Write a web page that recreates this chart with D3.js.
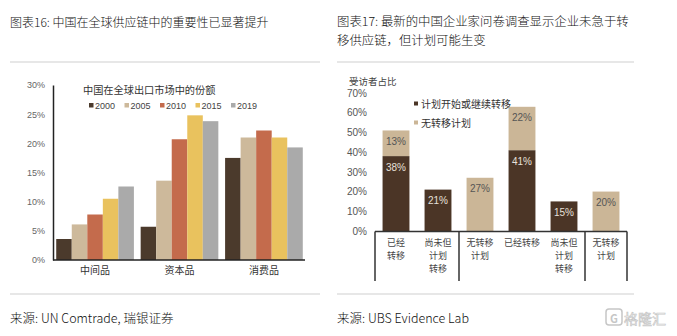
<!DOCTYPE html>
<html><head><meta charset="utf-8">
<script src="https://cdn.jsdelivr.net/npm/d3@7/dist/d3.min.js"></script>
<style>
html,body{margin:0;padding:0;background:#fff;}
svg{display:block;}
</style></head>
<body>
<svg id="c" width="677" height="336"></svg>
<script>
// ---------- Data ----------
const leftCategories = ["中间品", "资本品", "消费品"];
const leftYears = ["2000", "2005", "2010", "2015", "2019"];
const share2000 = [3.6, 5.7, 17.5];
const share2005 = [6.1, 13.6, 21.0];
const share2010 = [7.8, 20.7, 22.2];
const share2015 = [10.5, 24.8, 21.0];
const share2019 = [12.6, 23.8, 19.3];
const leftTicks = [0, 5, 10, 15, 20, 25, 30];

const rightCategories = ["已经\n转移", "尚未但\n计划\n转移", "无转移\n计划", "已经转移", "尚未但\n计划\n转移", "无转移\n计划"];
const planShift = [38, 21, 0, 41, 15, 0];
const noPlan = [13, 0, 27, 22, 0, 20];
const rightTicks = [0, 10, 20, 30, 40, 50, 60, 70];
const rightDividers = [0, 2, 5, 6];

const FONT = "'Noto Sans CJK SC','Noto Sans',sans-serif";
const svg = d3.select("#c");
svg.append("rect").attr("width", 677).attr("height", 336).attr("fill", "#fff");

// ---------- Titles / frame ----------
function t(x, y, s, size, color, anchor, weight) {
  return svg.append("text").attr("x", x).attr("y", y).text(s)
    .attr("font-family", FONT).attr("font-size", size).attr("fill", color || "#111")
    .attr("text-anchor", anchor || "start").attr("dominant-baseline", "central")
    .attr("font-weight", weight || "normal");
}
t(10, 21, "图表16: 中国在全球供应链中的重要性已显著提升", 12, "#111", "start", 300);
t(337, 21, "图表17: 最新的中国企业家问卷调查显示企业未急于转", 12.4, "#111", "start", 300);
t(337, 40, "移供应链，但计划可能生变", 12.4, "#111", "start", 300);
[[10, 320, 62], [337, 634, 62], [10, 320, 294], [337, 634, 294]].forEach(([a, b, y]) => {
  svg.append("line").attr("x1", a).attr("x2", b).attr("y1", y).attr("y2", y)
    .attr("stroke", "#cfcfcf").attr("stroke-width", 1);
});
t(10, 317, "来源: UN Comtrade, 瑞银证券", 12.5, "#111", "start", 300);
t(337, 317, "来源: UBS Evidence Lab", 12.5, "#111", "start", 300);
// watermark
const wm = svg.append("g").attr("opacity", 0.55);
wm.append("rect").attr("x", 606).attr("y", 309).attr("width", 16).attr("height", 16).attr("rx", 3)
  .attr("fill", "none").attr("stroke", "#999").attr("stroke-width", 1.5);
wm.append("text").attr("x", 614).attr("y", 318).text("G").attr("text-anchor", "middle")
  .attr("dominant-baseline", "central").attr("font-family", FONT).attr("font-size", 11)
  .attr("font-weight", "bold").attr("fill", "#999");
wm.append("text").attr("x", 624).attr("y", 318).text("格隆汇").attr("dominant-baseline", "central")
  .attr("font-family", FONT).attr("font-size", 14).attr("fill", "none")
  .attr("stroke", "#999").attr("stroke-width", 0.7);

// ---------- Left chart ----------
const yL = d3.scaleLinear().domain([0, 30]).range([260, 85]);
const x0 = d3.scaleBand().domain(leftCategories).range([52, 307]).paddingInner(0.08).paddingOuter(0.05);
const x1 = d3.scaleBand().domain(leftYears).range([0, x0.bandwidth()]);
const leftColors = d3.scaleOrdinal().domain(leftYears).range(["#4b3a2c", "#cdb99b", "#c46b4c", "#e9c25e", "#aaaaaa"]);
const leftSeries = [share2000, share2005, share2010, share2015, share2019];

const gL = svg.append("g");
leftSeries.forEach((vals, si) => {
  gL.selectAll(null).data(vals).join("rect")
    .attr("x", (d, i) => x0(leftCategories[i]) + x1(leftYears[si]))
    .attr("width", x1.bandwidth())
    .attr("y", d => yL(d)).attr("height", d => yL(0) - yL(d))
    .attr("fill", leftColors(leftYears[si]));
});
const axL = gL.append("g").attr("transform", "translate(53,0)")
  .call(d3.axisLeft(yL).tickValues(leftTicks).tickFormat(d => d + "%").tickSize(0).tickPadding(8));
axL.select(".domain").attr("stroke", "#222").attr("stroke-width", 1.5);
axL.selectAll("text").attr("font-family", "'Liberation Sans',Arial,sans-serif").attr("font-size", 9).attr("fill", "#666");
const axLb = gL.append("g").attr("transform", "translate(0,260)")
  .call(d3.axisBottom(x0).tickSize(0).tickPadding(7).tickSizeOuter(0));
axLb.select(".domain").attr("stroke", "#222").attr("stroke-width", 1.5).attr("d", "M53,0H305");
axLb.selectAll("text").attr("font-family", FONT).attr("font-size", 10).attr("fill", "#333");

gL.append("text").attr("x", 83).attr("y", 89).text("中国在全球出口市场中的份额")
  .attr("font-family", FONT).attr("font-size", 10.2).attr("fill", "#333").attr("dominant-baseline", "central");
leftYears.forEach((yr, i) => {
  const lx = 89 + i * 35.5;
  gL.append("rect").attr("x", lx).attr("y", 103).attr("width", 4.5).attr("height", 4.5).attr("fill", leftColors(yr));
  gL.append("text").attr("x", lx + 6).attr("y", 105.5).text(yr).attr("font-family", "'Liberation Sans',Arial,sans-serif")
    .attr("font-size", 9).attr("fill", "#444").attr("dominant-baseline", "central");
});

// ---------- Right chart ----------
const yR = d3.scaleLinear().domain([0, 70]).range([231, 93]);
const xR = d3.scaleBand().domain(d3.range(rightCategories.length)).range([375, 627]).paddingInner(0.36).paddingOuter(0.18);
const darkC = "#4b3526", lightC = "#cbb697";
const gR = svg.append("g");
const stackData = planShift.map((p, i) => ({ i, p, n: noPlan[i] }));
gR.selectAll(".d").data(stackData).join("rect")
  .attr("x", d => xR(d.i)).attr("width", xR.bandwidth())
  .attr("y", d => yR(d.p)).attr("height", d => yR(0) - yR(d.p)).attr("fill", darkC);
gR.selectAll(".l").data(stackData).join("rect")
  .attr("x", d => xR(d.i)).attr("width", xR.bandwidth())
  .attr("y", d => yR(d.p + d.n)).attr("height", d => yR(d.p) - yR(d.p + d.n)).attr("fill", lightC);
const LAB = "'Liberation Sans',Arial,sans-serif";
stackData.forEach(d => {
  if (d.p > 0) gR.append("text").attr("x", xR(d.i) + xR.bandwidth() / 2).attr("y", yR(d.p) + 11)
    .text(d.p + "%").attr("text-anchor", "middle").attr("dominant-baseline", "central")
    .attr("font-family", LAB).attr("font-size", 10).attr("fill", "#e6e0da");
  if (d.n > 0) gR.append("text").attr("x", xR(d.i) + xR.bandwidth() / 2).attr("y", yR(d.p + d.n) + 11)
    .text(d.n + "%").attr("text-anchor", "middle").attr("dominant-baseline", "central")
    .attr("font-family", LAB).attr("font-size", 10).attr("fill", "#555");
});
const axR = gR.append("g").attr("transform", "translate(367,0)")
  .call(d3.axisLeft(yR).tickValues(rightTicks).tickFormat(d => d + "%").tickSize(0).tickPadding(0));
axR.select(".domain").remove();
axR.selectAll("text").attr("font-family", LAB).attr("font-size", 10).attr("fill", "#555");
gR.append("text").attr("x", 349).attr("y", 81).text("受访者占比").attr("font-family", FONT)
  .attr("font-size", 9.5).attr("fill", "#444").attr("dominant-baseline", "central");
// x axis line and dividers
const step = xR.step();
gR.append("line").attr("x1", xR.range()[0]).attr("x2", xR.range()[1]).attr("y1", 231.5).attr("y2", 231.5)
  .attr("stroke", "#333").attr("stroke-width", 1.5);
rightDividers.forEach(k => {
  const xx = xR.range()[0] + k * step;
  gR.append("line").attr("x1", xx).attr("x2", xx).attr("y1", 231.5).attr("y2", 281)
    .attr("stroke", "#333").attr("stroke-width", 1.5);
});
rightCategories.forEach((lab, i) => {
  const lines = lab.split("\n");
  lines.forEach((ln, j) => gR.append("text").attr("x", xR(i) + xR.bandwidth() / 2)
    .attr("y", 242.5 + j * 13.2).attr("dominant-baseline", "central").attr("text-anchor", "middle")
    .attr("font-family", FONT).attr("font-size", 9).attr("fill", "#444").text(ln));
});
// legend
[["计划开始或继续转移", darkC, 103.5], ["无转移计划", lightC, 122.5]].forEach(([s, c, y]) => {
  gR.append("rect").attr("x", 414).attr("y", y - 2).attr("width", 4).attr("height", 4).attr("fill", c);
  gR.append("text").attr("x", 421).attr("y", y).text(s).attr("font-family", FONT).attr("font-size", 10)
    .attr("fill", "#333").attr("dominant-baseline", "central");
});
</script>
</body></html>
